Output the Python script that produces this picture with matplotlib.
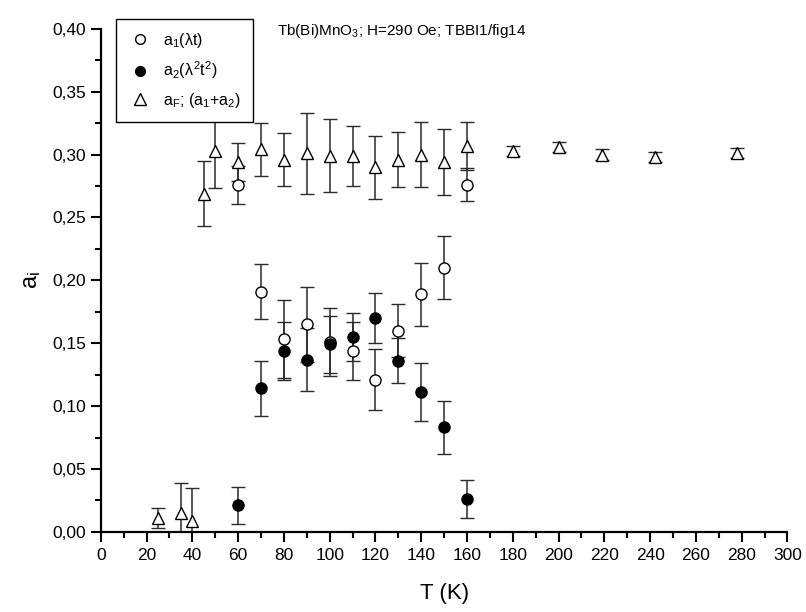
import matplotlib
matplotlib.use("Agg")
import matplotlib.pyplot as plt
from matplotlib.lines import Line2D
from matplotlib.ticker import MultipleLocator, FuncFormatter

plt.rcParams['font.family'] = ['Liberation Sans', 'DejaVu Sans']
plt.rcParams['mathtext.fontset'] = 'custom'
plt.rcParams['mathtext.rm'] = 'Liberation Sans'
plt.rcParams['mathtext.it'] = 'Liberation Sans'

# a1 (lambda t), open circles
t_a1 = [60, 70, 80, 90, 100, 110, 120, 130, 140, 150, 160]
a1 = [0.276, 0.191, 0.153, 0.165, 0.151, 0.144, 0.121, 0.160, 0.189, 0.210, 0.276]
a1_err = [0.015, 0.022, 0.031, 0.030, 0.027, 0.023, 0.024, 0.021, 0.025, 0.025, 0.013]

# a2 (lambda^2 t^2), filled circles
t_a2 = [60, 70, 80, 90, 100, 110, 120, 130, 140, 150, 160]
a2 = [0.021, 0.114, 0.144, 0.137, 0.149, 0.155, 0.170, 0.136, 0.111, 0.083, 0.026]
a2_err = [0.015, 0.022, 0.023, 0.025, 0.023, 0.019, 0.020, 0.018, 0.023, 0.021, 0.015]

# aF = a1 + a2, open triangles
t_af = [25, 35, 40, 45, 50, 60, 70, 80, 90, 100, 110, 120, 130, 140, 150, 160,
        180, 200, 219, 242, 278]
af = [0.011, 0.015, 0.009, 0.269, 0.303, 0.294, 0.304, 0.296, 0.301, 0.299, 0.299,
      0.290, 0.296, 0.300, 0.294, 0.307, 0.303, 0.306, 0.300, 0.298, 0.301]
af_err = [0.008, 0.024, 0.026, 0.026, 0.030, 0.015, 0.021, 0.021, 0.032, 0.029, 0.024,
          0.025, 0.022, 0.026, 0.026, 0.019, 0.004, 0.004, 0.004, 0.004, 0.004]

fig = plt.figure(figsize=(8.06, 6.12), dpi=100)
ax = fig.add_axes([0.125, 0.131, 0.852, 0.822])

bar_kw = dict(ecolor='#2a2a2a', elinewidth=1.1, capsize=5, capthick=1.1,
              linestyle='none', markeredgecolor='black', markeredgewidth=1.0)

ax.errorbar(t_af, af, yerr=af_err, marker='^', markersize=9,
            markerfacecolor='white', **bar_kw)
ax.errorbar(t_a1, a1, yerr=a1_err, marker='o', markersize=8,
            markerfacecolor='white', **bar_kw)
ax.errorbar(t_a2, a2, yerr=a2_err, marker='o', markersize=8,
            markerfacecolor='black', **bar_kw)

ax.set_xlim(0, 300)
ax.set_ylim(0, 0.40)
ax.xaxis.set_major_locator(MultipleLocator(20))
ax.xaxis.set_minor_locator(MultipleLocator(10))
ax.yaxis.set_major_locator(MultipleLocator(0.05))
ax.yaxis.set_minor_locator(MultipleLocator(0.025))
ax.yaxis.set_major_formatter(FuncFormatter(lambda v, p: f"{v:.2f}".replace('.', ',')))

for side in ['top', 'right']:
    ax.spines[side].set_visible(False)
for side in ['left', 'bottom']:
    ax.spines[side].set_linewidth(1.6)
ax.tick_params(which='major', direction='out', length=7, width=1.5, labelsize=12.5)
ax.tick_params(axis='x', which='major', pad=5)
ax.tick_params(which='minor', direction='out', length=4, width=1.5)

ax.set_xlabel('T (K)', fontsize=16, labelpad=14)
ax.set_ylabel(r'a$_\mathregular{i}$', fontsize=17, labelpad=7)

fig.text(0.344, 0.949, r'Tb(Bi)MnO$_3$; H=290 Oe; TBBI1/fig14', fontsize=11,
         va='center', ha='left')

handles = [
    Line2D([], [], marker='o', linestyle='none', markersize=7,
           markerfacecolor='white', markeredgecolor='black'),
    Line2D([], [], marker='o', linestyle='none', markersize=7,
           markerfacecolor='black', markeredgecolor='black'),
    Line2D([], [], marker='^', linestyle='none', markersize=8,
           markerfacecolor='white', markeredgecolor='black'),
]
labels = [r'a$_1$($\lambda$t)', r'a$_2$($\lambda^2$t$^2$)', r'a$_F$; (a$_1$+a$_2$)']
leg = fig.legend(handles, labels, loc='upper left', bbox_to_anchor=(0.144, 0.969),
                 fontsize=11.5, frameon=True, fancybox=False, framealpha=1,
                 edgecolor='black', borderpad=0.75, borderaxespad=0,
                 handletextpad=0.7, labelspacing=0.6, handlelength=1.5)
leg.get_frame().set_linewidth(1.0)

fig.savefig('out.png', dpi=100)
